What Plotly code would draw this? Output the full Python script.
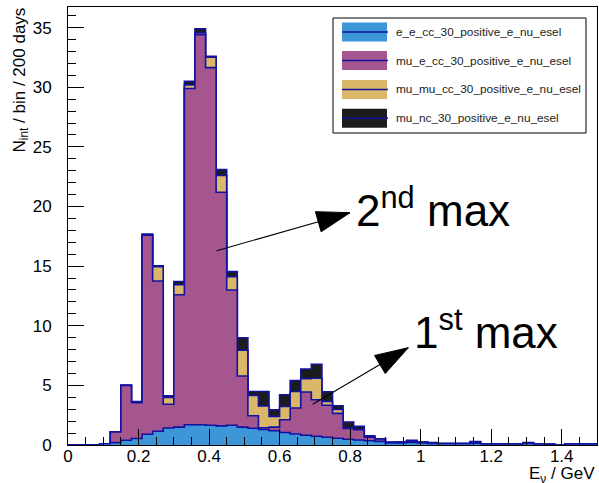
import math
import numpy as np
import plotly.graph_objects as go

# ---------------- data ----------------
x_min, x_max, n_bins = 0.0, 1.5, 50
y_max = 36.73

e_e_cc = [0, 0, 0, 0.10, 0.20, 0.40, 0.55, 0.90, 1.15, 1.42,
          1.50, 1.70, 1.70, 1.65, 1.60, 1.65, 1.50, 1.40, 1.30, 1.20,
          1.05, 0.92, 0.82, 0.74, 0.65, 0.57, 0.48, 0.42, 0.36, 0.30,
          0.18, 0.18, 0.22, 0.18, 0.14, 0.10, 0.10, 0.10, 0.15, 0.08,
          0.08, 0.08, 0.08, 0.12, 0.08, 0.06, 0.0, 0.08, 0.08, 0.08]
mu_e_cc = [0, 0, 0, 0, 0.90, 4.60, 3.00, 16.70, 12.60, 2.00,
           11.10, 28.20, 32.70, 30.00, 19.60, 11.35, 4.28, 1.05, 0.15, 0.30,
           1.07, 2.18, 3.63, 3.06, 2.68, 2.08, 0.90, 0.86, 0.30, 0.20,
           0.04, 0.05, 0.10, 0.05, 0.04, 0.02, 0.02, 0.02, 0.08, 0,
           0, 0, 0, 0.05, 0.02, 0, 0, 0, 0, 0]
mu_mu_cc = [0, 0, 0, 0, 0, 0, 0, 0, 1.20, 0.56,
            0.84, 0.30, 0.15, 0.87, 1.40, 1.12, 2.18, 1.70, 1.82, 0.90,
            1.11, 1.39, 1.12, 1.80, 0.32, 0.33, 0.05, 0, 0.02, 0,
            0, 0, 0, 0, 0, 0, 0, 0, 0, 0,
            0, 0, 0, 0, 0, 0, 0, 0, 0, 0]
mu_nc = [0, 0, 0, 0, 0, 0, 0.10, 0.10, 0.08, 0.14,
         0.27, 0.30, 0.36, 0.08, 0.50, 0.42, 1.04, 0.34, 1.22, 0.56,
         0.98, 0.92, 0.80, 1.17, 0.82, 0.31, 0.50, 0.28, 0.10, 0.03,
         0, 0.02, 0.08, 0.02, 0.02, 0, 0, 0, 0.05, 0,
         0, 0, 0, 0.03, 0, 0, 0, 0, 0, 0]

series_names = ["e_e_cc_30_positive_e_nu_esel",
                "mu_e_cc_30_positive_e_nu_esel",
                "mu_mu_cc_30_positive_e_nu_esel",
                "mu_nc_30_positive_e_nu_esel"]
series_values = [e_e_cc, mu_e_cc, mu_mu_cc, mu_nc]
fill_colors = ["#3c96d7", "#a6568e", "#dbb76a", "#1c1c1c"]
outline = "#1212a0"

x_ticks = [0, 0.2, 0.4, 0.6, 0.8, 1.0, 1.2, 1.4]
x_tick_text = ["0", "0.2", "0.4", "0.6", "0.8", "1", "1.2", "1.4"]
y_ticks = [0, 5, 10, 15, 20, 25, 30, 35]

# ---------------- geometry ----------------
W, H = 599, 483
ML, MR, MT, MB = 68, 2, 7, 38
PW, PH = W - ML - MR, H - MT - MB
FONT = "Liberation Sans, Arial, Helvetica, sans-serif"

edges = np.linspace(x_min, x_max, n_bins + 1)
cum = np.cumsum(np.array(series_values, dtype=float), axis=0)

fig = go.Figure()
# draw stacked histograms from the total down (ROOT THStack style)
for k in range(len(series_values) - 1, -1, -1):
    yv = list(cum[k]) + [cum[k][-1]]
    fig.add_trace(go.Scatter(
        x=edges, y=yv, mode="lines", line_shape="hv",
        line=dict(color=outline, width=1.6),
        fill="tozeroy", fillcolor=fill_colors[k],
        name=series_names[k], showlegend=False, hoverinfo="skip"))


def ppx(px):
    return (px - ML) / PW


def ppy(py):
    return (H - MB - py) / PH


shapes = []
annotations = []

# legend box
shapes.append(dict(type="rect", xref="paper", yref="paper",
                   x0=ppx(333), x1=ppx(586), y0=ppy(133), y1=ppy(18),
                   line=dict(color="black", width=1), fillcolor="white",
                   layer="above"))
row_centers = [32, 60.5, 89.5, 118.3]
for k, cy in enumerate(row_centers):
    shapes.append(dict(type="rect", xref="paper", yref="paper",
                       x0=ppx(342), x1=ppx(387), y0=ppy(cy + 9.5), y1=ppy(cy - 9.5),
                       line=dict(width=0), fillcolor=fill_colors[k], layer="above"))
    shapes.append(dict(type="line", xref="paper", yref="paper",
                       x0=ppx(342), x1=ppx(388), y0=ppy(cy), y1=ppy(cy),
                       line=dict(color=outline, width=1.6), layer="above"))
    annotations.append(dict(xref="paper", yref="paper", x=ppx(394), y=ppy(cy),
                            xanchor="left", yanchor="middle", showarrow=False,
                            text=series_names[k],
                            font=dict(family=FONT, size=11.8, color="#222222")))

# arrows (line + filled triangular head)
arrows = [((0.4216, 16.29), (0.7996, 19.48)),
          ((0.6939, 3.41), (0.9649, 8.16))]
sx, sy = PW / (x_max - x_min), PH / y_max
for (x0, y0), (x1, y1) in arrows:
    shapes.append(dict(type="line", xref="x", yref="y", x0=x0, y0=y0, x1=x1, y1=y1,
                       line=dict(color="black", width=1.1), layer="above"))
    dx, dy = (x1 - x0) * sx, (y1 - y0) * sy
    n = math.hypot(dx, dy)
    ux, uy = dx / n, dy / n
    L, Wd = 33, 10.5
    bx, by = -L * ux, -L * uy
    nx, ny = -uy, ux
    path = (f"M0,0 L{bx + Wd * nx:.2f},{by + Wd * ny:.2f} "
            f"L{bx - Wd * nx:.2f},{by - Wd * ny:.2f} Z")
    shapes.append(dict(type="path", xref="x", yref="y",
                       xsizemode="pixel", ysizemode="pixel",
                       xanchor=x1, yanchor=y1, path=path,
                       fillcolor="black", line=dict(color="black", width=1),
                       layer="above"))

annotations.append(dict(xref="paper", yref="paper", x=ppx(354), y=ppy(208),
                        xanchor="left", yanchor="middle", showarrow=False,
                        text="2<sup>nd</sup> max",
                        font=dict(family=FONT, size=44, color="black")))
annotations.append(dict(xref="paper", yref="paper", x=ppx(412), y=ppy(329),
                        xanchor="left", yanchor="middle", showarrow=False,
                        text="1<sup>st</sup> max",
                        font=dict(family=FONT, size=44, color="black")))

# axis titles
annotations.append(dict(xref="paper", yref="paper", x=ppx(21), y=ppy(6),
                        xanchor="center", yanchor="top", textangle=-90,
                        showarrow=False, text="N<sub>int</sub> / bin / 200 days",
                        font=dict(family=FONT, size=17, color="black")))
annotations.append(dict(xref="paper", yref="paper", x=ppx(597), y=ppy(462),
                        xanchor="right", yanchor="top", showarrow=False,
                        text="E<sub>ν</sub> / GeV",
                        font=dict(family=FONT, size=17, color="black")))

fig.update_layout(
    width=W, height=H,
    margin=dict(l=ML, r=MR, t=MT, b=MB, autoexpand=False),
    paper_bgcolor="white", plot_bgcolor="white",
    showlegend=False,
    font=dict(family=FONT, size=17, color="black"),
    shapes=shapes, annotations=annotations,
    xaxis=dict(range=[x_min, x_max], tickvals=x_ticks, ticktext=x_tick_text,
               showgrid=False, zeroline=False, showline=True, mirror=True,
               linecolor="black", linewidth=1,
               ticks="inside", ticklen=16, tickwidth=1, tickcolor="black",
               ticklabelstandoff=-4,
               minor=dict(dtick=0.05, tick0=0, ticks="inside", ticklen=8,
                          tickwidth=1, tickcolor="black", showgrid=False),
               tickfont=dict(family=FONT, size=17, color="black")),
    yaxis=dict(range=[0, y_max], tickvals=y_ticks,
               showgrid=False, zeroline=False, showline=True, mirror=True,
               linecolor="black", linewidth=1,
               ticks="inside", ticklen=16, tickwidth=1, tickcolor="black",
               ticklabelstandoff=12,
               minor=dict(dtick=1, tick0=0, ticks="inside", ticklen=8,
                          tickwidth=1, tickcolor="black", showgrid=False),
               tickfont=dict(family=FONT, size=17, color="black")),
)

fig.write_html("out.html")
